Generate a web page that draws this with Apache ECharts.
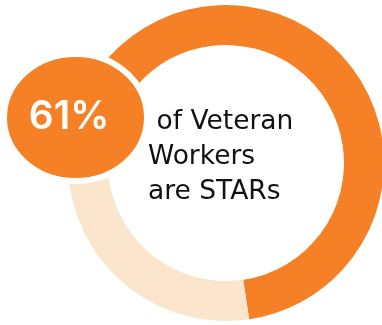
<!DOCTYPE html>
<html>
<head>
<meta charset="utf-8">
<script src="https://cdn.jsdelivr.net/npm/echarts@6/dist/echarts.min.js"></script>
<style>
  html, body { margin: 0; padding: 0; background: #ffffff; }
  #chart { width: 382px; height: 325px; }
</style>
</head>
<body>
<div id="chart"></div>
<script>
// Share of veteran workers who are STARs vs. the rest
const categories = ['STARs', 'Other'];
const shares = [61, 39];
const headlineLines = [' of Veteran', 'Workers', 'are STARs'];

const ORANGE = '#F58025';
const PEACH = '#FBE5CD';

const total = shares.reduce((a, b) => a + b, 0);
const headlinePct = Math.round(shares[0] / total * 100) + '%';

const chart = echarts.init(document.getElementById('chart'), null, { renderer: 'canvas' });

// vertical centres of the three caption lines
const lineY = [122, 157, 192];

chart.setOption({
  animation: false,
  backgroundColor: '#ffffff',
  series: [{
    type: 'pie',
    center: [226, 163],
    radius: [118, 158],
    startAngle: 138,
    clockwise: true,
    silent: true,
    label: { show: false },
    labelLine: { show: false },
    itemStyle: { borderWidth: 0 },
    data: categories.map((name, i) => ({
      name: name,
      value: shares[i],
      itemStyle: { color: i === 0 ? ORANGE : PEACH }
    }))
  }],
  graphic: [
    {
      type: 'ellipse',
      z: 10,
      shape: { cx: 75.5, cy: 117.5, rx: 71.5, ry: 63.5 },
      style: { fill: ORANGE, stroke: '#ffffff', lineWidth: 6 }
    },
    {
      type: 'text',
      z: 11,
      style: {
        x: 69, y: 117,
        text: headlinePct,
        fill: '#ffffff',
        font: '600 39px Inter',
        align: 'center',
        verticalAlign: 'middle'
      }
    }
  ].concat(headlineLines.map((t, i) => ({
    type: 'text',
    z: 11,
    style: {
      x: 148, y: lineY[i],
      text: t,
      fill: '#111111',
      font: '400 26.5px "DejaVu Sans"',
      align: 'left',
      verticalAlign: 'middle'
    }
  })))
});
</script>
</body>
</html>
